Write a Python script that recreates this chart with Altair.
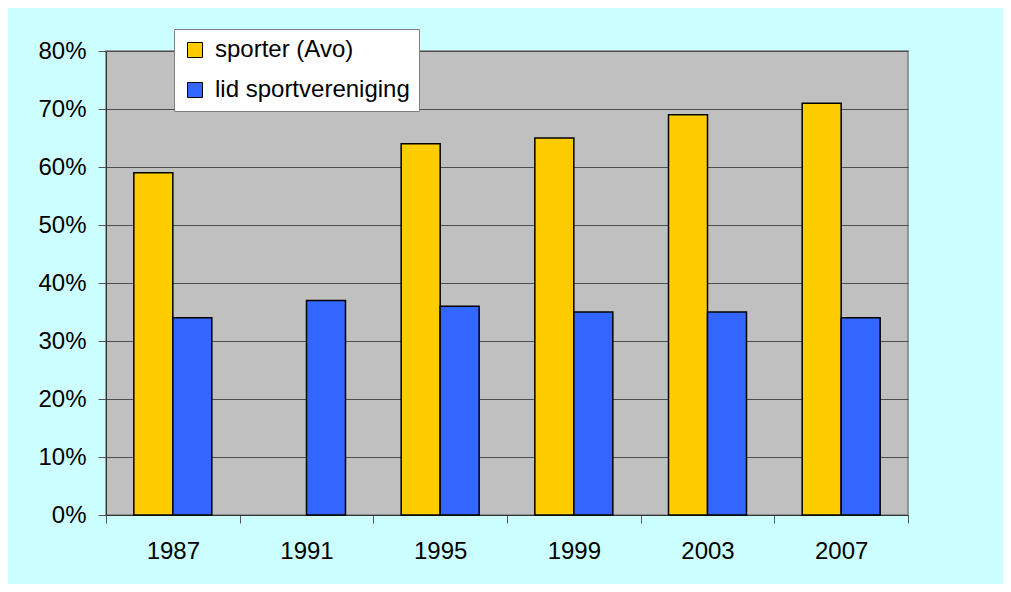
import altair as alt
import pandas as pd

years = ["1987", "1991", "1995", "1999", "2003", "2007"]
series_names = ["sporter (Avo)", "lid sportvereniging"]
sporter = [0.59, None, 0.64, 0.65, 0.69, 0.71]
lid = [0.34, 0.37, 0.36, 0.35, 0.35, 0.34]
y_ticks = [0, 0.1, 0.2, 0.3, 0.4, 0.5, 0.6, 0.7, 0.8]
colors = ["#FFCC00", "#3366FF"]

rows = []
for y, s, l in zip(years, sporter, lid):
    if s is not None:
        rows.append({"year": y, "series": series_names[0], "value": s})
    if l is not None:
        rows.append({"year": y, "series": series_names[1], "value": l})
df = pd.DataFrame(rows)

FONT = "Liberation Sans"

chart = alt.Chart(df).mark_bar(stroke="black", strokeWidth=1.5).encode(
    x=alt.X("year:N", sort=years,
            scale=alt.Scale(domain=years, paddingInner=0, paddingOuter=0),
            axis=alt.Axis(title=None, labelAngle=0, tickBand="extent", tickSize=8,
                          tickColor="#555555", domainColor="#333333",
                          labelPadding=16, grid=False)),
    xOffset=alt.XOffset("series:N", scale=alt.Scale(domain=series_names, paddingInner=0, paddingOuter=0.714)),
    y=alt.Y("value:Q", scale=alt.Scale(domain=[0, 0.8], nice=False),
            axis=alt.Axis(title=None, format=".0%", values=y_ticks, tickSize=8,
                          tickColor="#555555", domainColor="#333333",
                          labelPadding=12, grid=True, gridColor="#4d4d4d",
                          gridWidth=1.2)),
    color=alt.Color("series:N",
                    scale=alt.Scale(domain=series_names, range=colors),
                    legend=alt.Legend(title=None, orient="none", legendX=68, legendY=-22,
                                      fillColor="white", strokeColor="#808080",
                                      padding=9, symbolType="square", symbolSize=225,
                                      symbolStrokeColor="black", symbolStrokeWidth=1,
                                      labelFontSize=24, labelFont=FONT, labelColor="black",
                                      labelOffset=8, rowPadding=16, labelLimit=0)),
).properties(
    width=802, height=464,
    padding={"left": 98, "top": 43, "right": 95, "bottom": 69},
    autosize=alt.AutoSizeParams(type="none"),
    background="#CCFFFF",
).configure_view(
    fill="#C0C0C0", stroke="#808080", strokeWidth=1.5
).configure_axis(
    labelFont=FONT, labelFontSize=24, labelColor="black"
)

chart.save("out.html", embed_options={"renderer": "svg", "actions": False})
